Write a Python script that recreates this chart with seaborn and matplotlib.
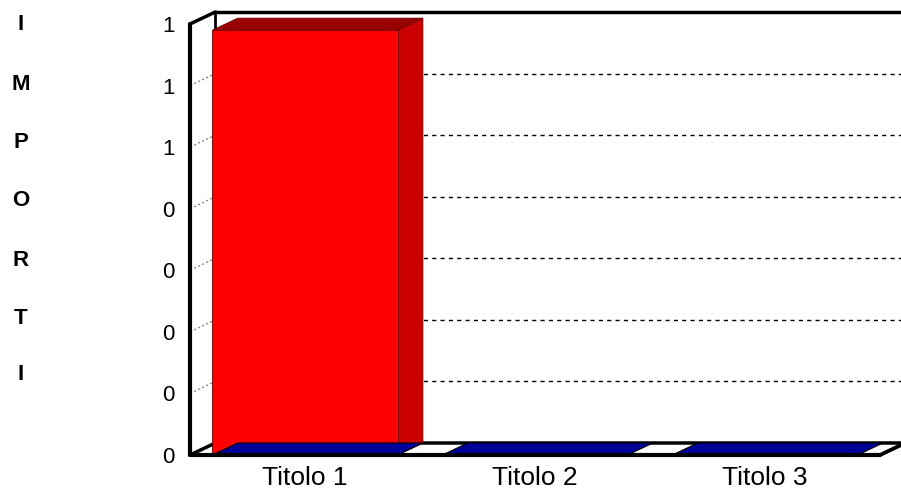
import numpy as np
import pandas as pd
import matplotlib
matplotlib.use("Agg")
import matplotlib.pyplot as plt
from matplotlib.patches import Polygon
import seaborn as sns

categories = ["Titolo 1", "Titolo 2", "Titolo 3"]
importi = [0.69, 0.0, 0.0]
base = [0.0, 0.0, 0.0]
ytick_values = [0.0, 0.1, 0.2, 0.3, 0.4, 0.5, 0.6, 0.7]
ytick_labels = ["0", "0", "0", "0", "0", "1", "1", "1"]
axis_title = "IMPORTI"

sns.set_style("white")
plt.rcParams["font.family"] = ["Liberation Sans", "DejaVu Sans"]
plt.rcParams["text.color"] = "black"
plt.rcParams["xtick.color"] = "black"
plt.rcParams["ytick.color"] = "black"

fig = plt.figure(figsize=(9.01, 4.97), dpi=100)
ax = fig.add_axes([190 / 901, 42 / 497, 690 / 901, 431 / 497])

df = pd.DataFrame({"cat": categories, "importi": importi, "base": base})
sns.barplot(data=df, x="cat", y="importi", color="#FF0000", saturation=1,
            width=0.805, edgecolor="#700000", linewidth=0.6, ax=ax, zorder=4)
sns.barplot(data=df, x="cat", y="base", color="#000099", saturation=1,
            width=0.805, linewidth=0, ax=ax, zorder=4)

ax.set_xlim(-0.5, 2.5)
ax.set_ylim(0, 0.7)

# depth of the fake 3d box, in data units
DX, DY = 0.11, 0.0195
x0, x1 = -0.5, 2.5
ytop = ytick_values[-1]

# back wall gridlines + left wall diagonals
for y in ytick_values[1:-1]:
    ax.plot([x0 + DX, x1 + DX], [y + DY, y + DY], color="black", lw=1,
            ls=(0, (3, 3)), clip_on=False, zorder=1)
    ax.plot([x0, x0 + DX], [y, y + DY], color="#777777", lw=0.8,
            ls=(0, (2, 2)), clip_on=False, zorder=1)

# back wall frame
ax.plot([x0 + DX, x1 + DX], [ytop + DY, ytop + DY], color="black", lw=2.5,
        clip_on=False, zorder=2)
ax.plot([x0 + DX, x0 + DX], [DY, ytop + DY], color="black", lw=2,
        clip_on=False, zorder=2)
ax.plot([x0, x0 + DX], [ytop, ytop + DY], color="black", lw=2.5,
        clip_on=False, zorder=2)

# floor
floor = Polygon([(x0, 0), (x1, 0), (x1 + DX, DY), (x0 + DX, DY)],
                facecolor="white", edgecolor="black", lw=2.5,
                clip_on=False, zorder=2)
ax.add_patch(floor)

red_patches = ax.patches[:3]
blue_patches = ax.patches[3:6]

for p in red_patches:
    bx, bw, h = p.get_x(), p.get_width(), p.get_height()
    if h <= 0:
        continue
    side = Polygon([(bx + bw, 0), (bx + bw + DX, DY), (bx + bw + DX, h + DY), (bx + bw, h)],
                   facecolor="#CC0000", edgecolor="#700000", lw=0.6,
                   clip_on=False, zorder=3)
    top = Polygon([(bx, h), (bx + bw, h), (bx + bw + DX, h + DY), (bx + DX, h + DY)],
                  facecolor="#990000", edgecolor="#700000", lw=0.6,
                  clip_on=False, zorder=3)
    ax.add_patch(side)
    ax.add_patch(top)

for p in blue_patches:
    bx, bw, h = p.get_x(), p.get_width(), p.get_height()
    top = Polygon([(bx, h), (bx + bw, h), (bx + bw + DX, h + DY), (bx + DX, h + DY)],
                  facecolor="#000099", edgecolor="black", lw=0.8,
                  clip_on=False, zorder=5)
    ax.add_patch(top)

# front axis line and floor front edge
ax.plot([x0, x0], [0, ytop], color="black", lw=3, clip_on=False, zorder=6)
ax.plot([x0, x1], [0, 0], color="black", lw=3, clip_on=False, zorder=6)
ax.plot([x1, x1 + DX], [0, DY], color="black", lw=2.5, clip_on=False, zorder=6)

sns.despine(ax=ax, left=True, bottom=True)
ax.set_yticks(ytick_values)
ax.set_yticklabels(ytick_labels, fontsize=16)
ax.tick_params(axis="y", length=0, pad=11)
ax.tick_params(axis="x", length=0, pad=8, labelsize=19)
ax.set_xlabel("")
ax.set_ylabel("")
ax.grid(False)

# vertical letters on the left
ys = [25, 84, 143, 201, 261, 318, 374]
for ch, yy in zip(axis_title, ys):
    fig.text(21 / 901, 1 - yy / 497, ch, ha="center", va="center",
             fontsize=16, fontweight="bold", color="black")

fig.savefig("out.png", dpi=100)
